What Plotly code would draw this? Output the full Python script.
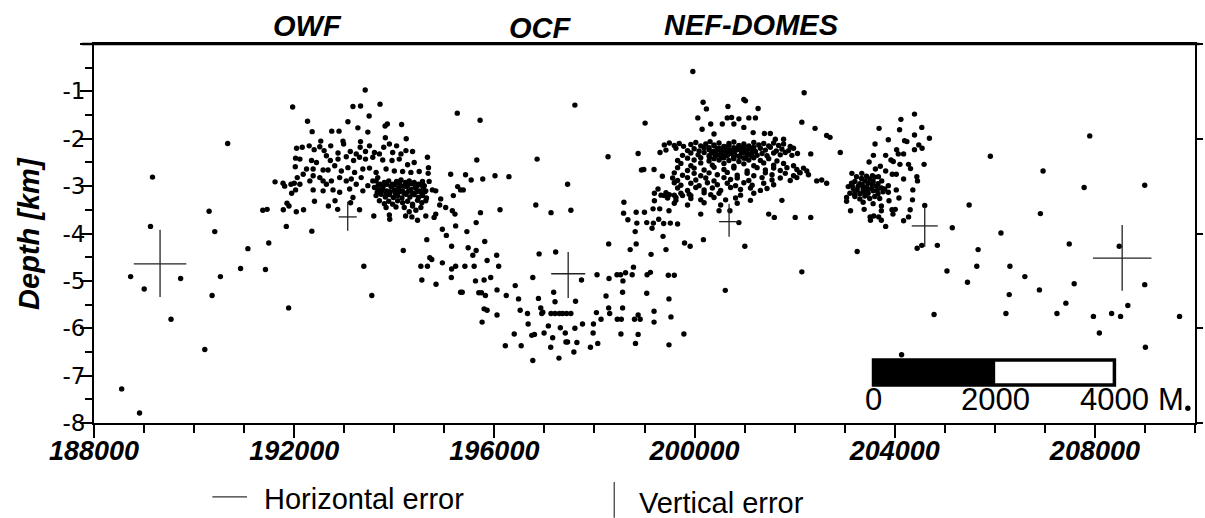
import plotly.graph_objects as go

# ---------------- data (x in m, depth in km) ----------------
west_events = [
    (190671, -2.10), (189169, -2.81), (190300, -3.53), (189129, -3.85), (190413, -3.96),
    (188732, -4.91), (189003, -5.17), (189731, -4.95), (189539, -5.81), (190214, -6.45),
    (188553, -7.28), (188910, -7.79), (190526, -4.91), (190360, -5.31), (190929, -4.74),
    (191075, -4.32), (191492, -4.20), (191426, -4.76), (191889, -5.57), (193392, -4.69),
    (193551, -5.31),
]

owf_events = [
    (193419, -0.97), (191969, -1.33), (193174, -1.32), (193326, -1.31), (193716, -1.27),
    (195259, -1.46), (193498, -1.52), (192267, -1.63), (193074, -1.64), (194147, -1.70),
    (193816, -1.73), (193862, -1.69), (192359, -1.85), (192750, -1.84), (192896, -1.84),
    (193273, -1.77), (193472, -1.86), (194239, -2.00), (193822, -1.98), (192531, -2.05),
    (192975, -2.05), (193326, -2.06), (194663, -2.39), (195127, -2.75), (195266, -3.01),
    (195180, -3.20), (195325, -3.08), (194683, -2.61), (194677, -2.73), (194697, -2.90),
    (191843, -3.85), (192353, -3.95), (191373, -3.51), (191459, -3.49), (191783, -3.50),
    (191856, -3.36), (191896, -3.42), (192042, -3.54), (192187, -3.50), (191618, -2.91),
    (191777, -2.94), (191810, -3.00), (191936, -2.96), (192002, -2.94), (192062, -2.82),
    (191949, -3.15), (192028, -3.08), (192114, -2.96), (192406, -3.32), (192684, -3.42),
    (192816, -3.31), (192869, -3.49), (193127, -3.35), (193306, -3.50), (193591, -3.63),
    (193902, -3.61), (193909, -3.70), (194226, -3.63), (194299, -3.54), (194432, -3.51),
    (194352, -3.65), (194465, -3.72), (194630, -3.63), (194796, -3.66), (194961, -3.91),
    (195226, -3.84), (195160, -3.52), (194908, -3.40), (195027, -3.45), (194762, -3.08),
    (194829, -3.10), (194928, -3.27), (194829, -3.59), (195213, -3.59),
    (192048, -2.20), (192161, -2.18), (192300, -2.15), (192399, -2.23), (192512, -2.17),
    (192598, -2.25), (192730, -2.15), (192876, -2.30), (192988, -2.11), (193121, -2.27),
    (193240, -2.32), (193319, -2.18), (193425, -2.27), (193505, -2.15), (193604, -2.29),
    (193703, -2.32), (193789, -2.18), (193902, -2.11), (193968, -2.29), (194047, -2.15),
    (194134, -2.32), (194233, -2.25), (194365, -2.27),
    (192028, -2.41), (192114, -2.43), (192346, -2.46), (192445, -2.50), (192644, -2.36),
    (192723, -2.46), (192876, -2.43), (193041, -2.38), (193187, -2.46), (193306, -2.39),
    (193425, -2.43), (193571, -2.39), (193769, -2.45), (193955, -2.46), (194100, -2.43),
    (194266, -2.55), (194398, -2.50),
    (192022, -2.59), (192247, -2.64), (192379, -2.64), (192578, -2.66), (192677, -2.66),
    (192810, -2.57), (192942, -2.68), (193074, -2.61), (193207, -2.71), (193372, -2.64),
    (193505, -2.62), (193637, -2.71), (193836, -2.64), (194001, -2.68), (194167, -2.69),
    (194332, -2.71), (194498, -2.69),
    (192181, -2.75), (192313, -2.89), (192379, -2.78), (192512, -2.82), (192578, -2.89),
    (192644, -2.96), (192743, -2.89), (192776, -3.08), (192909, -2.82), (193041, -2.89),
    (193141, -2.85), (193108, -3.06), (193240, -2.96), (193339, -2.82), (193372, -3.10),
    (193472, -2.99), (193571, -2.89), (193670, -2.82), (192379, -3.08), (192578, -3.10),
    (192909, -3.13), (193174, -3.24),
    # dense core
    (193637, -2.89), (193716, -2.96), (193802, -2.92), (193889, -2.89), (193968, -2.96),
    (194047, -2.90), (194134, -2.87), (194220, -2.92), (194299, -2.89), (194398, -2.92),
    (194484, -2.96), (194564, -2.90),
    (193604, -3.03), (193690, -3.08), (193769, -3.04), (193849, -3.10), (193935, -3.01),
    (194001, -3.08), (194087, -3.04), (194167, -3.10), (194246, -3.01), (194332, -3.07),
    (194418, -3.03), (194498, -3.10), (194577, -3.04), (194630, -3.10),
    (193637, -3.20), (193736, -3.17), (193822, -3.23), (193902, -3.18), (193981, -3.24),
    (194067, -3.20), (194153, -3.25), (194233, -3.17), (194312, -3.23), (194398, -3.18),
    (194484, -3.24), (194564, -3.20), (194643, -3.25),
    (193703, -3.31), (193802, -3.37), (193889, -3.32), (193968, -3.38), (194067, -3.31),
    (194167, -3.35), (194266, -3.32), (194365, -3.38), (194465, -3.30), (194551, -3.35),
    (194630, -3.31),
    (193836, -3.45), (194034, -3.44), (194200, -3.45), (194365, -3.42), (194531, -3.45),
    (193680, -2.98), (193775, -3.00), (193850, -2.96), (193940, -3.00), (194010, -2.97),
    (194105, -2.95), (194180, -3.00), (194270, -2.97), (194350, -2.95), (194445, -3.01),
    (194520, -2.97), (194600, -2.99),
    (193660, -3.13), (193745, -3.11), (193840, -3.15), (193915, -3.12), (194015, -3.14),
    (194100, -3.12), (194195, -3.15), (194280, -3.11), (194365, -3.15), (194450, -3.12),
    (194545, -3.14), (194610, -3.12),
]

ocf_events = [
    (195378, -3.08), (195424, -2.76), (195537, -2.87), (195649, -2.45), (195715, -1.61),
    (195768, -2.85), (196013, -2.78), (196291, -2.80), (195722, -3.56), (195636, -3.77),
    (195451, -3.96), (196113, -3.50), (196828, -3.40), (197132, -3.56), (197529, -3.51),
    (196854, -2.43), (197463, -2.96), (197609, -1.29), (198271, -2.38),
    (194180, -4.36), (194650, -4.13), (195041, -4.04), (195146, -4.27), (194710, -4.51),
    (194749, -4.55), (194531, -4.69), (194663, -4.69), (194961, -4.62), (195146, -4.75),
    (195226, -4.69), (194551, -4.98), (194835, -5.07), (195140, -4.93), (195325, -5.24),
    (195808, -4.17), (195477, -4.30), (195636, -4.36), (195570, -4.46), (195855, -4.57),
    (196046, -4.46), (195411, -4.69), (195596, -4.69), (196086, -4.69), (195623, -5.00),
    (195795, -4.98), (195927, -4.93), (195689, -5.25), (195742, -5.25), (195821, -5.31),
    (196053, -5.19), (196238, -5.31), (196417, -5.10), (196483, -5.38), (195358, -5.24),
    (196894, -4.43), (197225, -4.39), (196768, -4.93), (196881, -5.37), (197185, -5.24),
    (197212, -5.44), (197622, -5.43), (197741, -4.98), (195795, -5.59), (195855, -5.62),
    (196053, -5.72), (195755, -5.87), (196516, -5.62), (196662, -5.69), (196927, -5.57),
    (196967, -5.66),
    (197132, -5.69), (197212, -5.69), (197298, -5.69), (197364, -5.69), (197443, -5.69),
    (197529, -5.69), (196947, -5.69),
    (196675, -5.91), (196397, -6.12), (196219, -6.37), (196536, -6.37), (196748, -6.15),
    (196801, -6.13), (196993, -6.10), (197079, -5.95), (197318, -5.99), (197417, -6.10),
    (197165, -6.20), (197126, -6.40), (197430, -6.29), (197463, -6.29), (197649, -6.30),
    (197609, -6.00), (197589, -6.50), (197291, -6.63), (196768, -6.68), (197761, -5.91),
    (197920, -6.40), (197973, -6.10), (198066, -6.32), (197980, -5.91), (198132, -5.81),
    (198039, -5.67), (198304, -5.69), (198284, -5.57), (198231, -5.32), (198456, -5.81),
    (198536, -5.81), (198562, -5.57), (198562, -5.24), (198873, -5.72), (198800, -5.81),
    (198913, -5.81), (198529, -6.12), (198873, -6.13), (198820, -6.32), (199191, -5.64),
    (199191, -5.87), (199529, -5.76), (199489, -5.38), (199045, -5.26), (199489, -6.35),
    (199787, -6.12),
    (198052, -4.87), (198291, -4.95), (198450, -4.87), (198522, -4.87), (198622, -4.83),
    (198754, -4.87), (198780, -4.71), (198569, -5.00), (199052, -4.87), (199118, -4.82),
    (199476, -4.88), (199595, -4.88),
    (198284, -4.22), (198834, -4.22), (198714, -4.34), (199131, -4.44), (199370, -4.06),
    (199429, -4.34), (199800, -4.20), (199912, -4.27), (200177, -4.13), (201005, -4.27),
    (202144, -4.81), (200614, -5.20),
]

nef_events = [
    (199966, -0.58), (199012, -1.67), (198873, -2.31), (198939, -2.66), (198986, -2.65),
    (199191, -2.65), (199357, -2.79), (199310, -2.29), (198589, -3.34), (198582, -3.57),
    (198834, -3.55), (198999, -3.55), (198668, -3.71), (198847, -3.78), (198814, -3.96),
    (199045, -3.77), (199178, -3.78), (199151, -3.89), (199284, -3.70), (199383, -3.79),
    (199516, -3.78), (199661, -3.80), (199171, -3.48), (199304, -3.48), (199489, -3.52),
    (199270, -3.06), (199198, -3.31), (199397, -3.20), (199496, -3.18), (199628, -3.24),
    (199760, -3.20), (199893, -3.17), (200124, -3.59), (200489, -3.52), (200707, -3.52),
    (200886, -3.77), (201482, -3.59), (201594, -3.66), (202011, -3.66), (202322, -3.66),
    (201746, -3.30), (202190, -1.03), (202144, -1.65), (202408, -1.78), (202640, -1.93),
    (202322, -2.32), (202640, -2.94), (202541, -2.87), (202441, -2.89), (202243, -2.68),
    (202097, -2.71), (202044, -2.82), (200985, -1.17), (201018, -1.20), (201270, -1.36),
    (200171, -1.23), (200237, -1.37), (200667, -1.32), (200065, -1.56), (200323, -1.69),
    (200555, -1.69), (200654, -1.56), (200740, -1.55), (200886, -1.58), (201085, -1.56),
    (201217, -1.56), (200151, -1.80), (200389, -1.90), (200786, -1.69), (200985, -1.76),
    (201171, -1.87), (201395, -1.89), (201514, -1.89), (201614, -2.01), (201779, -2.01),
]

nef_cluster = [
    (199396, -2.13), (199496, -2.09), (199595, -2.14), (199694, -2.10), (199780, -2.16),
    (199926, -2.12), (200025, -2.08), (200124, -2.15), (200224, -2.11), (200310, -2.06),
    (200389, -2.13), (200489, -2.09), (200588, -2.16), (200687, -2.10), (200786, -2.07),
    (200886, -2.14), (200985, -2.11), (201084, -2.17), (201184, -2.08), (201283, -2.13),
    (201382, -2.10), (201482, -2.15), (201581, -2.09), (201680, -2.14), (201779, -2.11),
    (201912, -2.16),
    (200290, -2.19), (200389, -2.15), (200489, -2.20), (200588, -2.17), (200687, -2.14),
    (200786, -2.19), (200886, -2.16), (200985, -2.20), (201084, -2.15), (201184, -2.18),
    (199429, -2.24), (199628, -2.20), (199860, -2.25), (199992, -2.21), (200091, -2.26),
    (200191, -2.19), (200290, -2.23), (200376, -2.27), (200455, -2.21), (200535, -2.25),
    (200621, -2.19), (200707, -2.24), (200786, -2.28), (200866, -2.22), (200952, -2.19),
    (201038, -2.25), (201117, -2.21), (201217, -2.27), (201316, -2.20), (201415, -2.24),
    (201515, -2.18), (201634, -2.26), (201746, -2.22), (201879, -2.25), (201978, -2.20),
    (200340, -2.29), (200440, -2.25), (200540, -2.30), (200640, -2.26), (200740, -2.31),
    (200840, -2.24), (200940, -2.29), (201040, -2.27), (201140, -2.31),
    (199760, -2.35), (199926, -2.30), (200071, -2.34), (200191, -2.29), (200290, -2.36),
    (200389, -2.31), (200469, -2.34), (200555, -2.30), (200641, -2.35), (200720, -2.29),
    (200800, -2.33), (200886, -2.37), (200972, -2.30), (201051, -2.34), (201151, -2.29),
    (201250, -2.35), (201349, -2.31), (201448, -2.36), (201581, -2.30), (201713, -2.34),
    (201813, -2.29), (201945, -2.35), (202057, -2.31),
    (200300, -2.39), (200420, -2.36), (200540, -2.40), (200660, -2.35), (200780, -2.39),
    (200900, -2.37), (201020, -2.41), (201140, -2.36),
    (199661, -2.46), (199860, -2.41), (199992, -2.45), (200124, -2.40), (200290, -2.47),
    (200389, -2.42), (200489, -2.45), (200588, -2.40), (200687, -2.46), (200786, -2.42),
    (200886, -2.48), (200985, -2.41), (201084, -2.45), (201184, -2.40), (201316, -2.46),
    (201482, -2.42), (201647, -2.47),
    (199727, -2.52), (199926, -2.57), (200124, -2.51), (200356, -2.56), (200588, -2.52),
    (200786, -2.58), (200985, -2.53), (201184, -2.57), (201382, -2.51), (201581, -2.56),
    (201779, -2.52), (201978, -2.57),
    (199661, -2.61), (199860, -2.67), (199992, -2.62), (200191, -2.66), (200389, -2.60),
    (200588, -2.65), (200786, -2.62), (201051, -2.68), (201250, -2.61), (201415, -2.66),
    (201581, -2.62), (201713, -2.67), (201846, -2.61), (202044, -2.65), (202177, -2.62),
    (199595, -2.72), (199760, -2.77), (199992, -2.73), (200124, -2.78), (200290, -2.72),
    (200455, -2.76), (200654, -2.71), (200853, -2.77), (201051, -2.73), (201184, -2.78),
    (201415, -2.72), (201548, -2.76), (201813, -2.73), (201978, -2.78), (202110, -2.72),
    (202276, -2.76),
    (199562, -2.83), (199661, -2.88), (199860, -2.82), (200025, -2.87), (200224, -2.83),
    (200389, -2.89), (200588, -2.82), (200720, -2.86), (200853, -2.83), (201084, -2.88),
    (201349, -2.82), (201548, -2.87), (201713, -2.83), (201912, -2.88),
    (199595, -2.93), (199727, -2.98), (199926, -2.94), (200091, -2.99), (200257, -2.93),
    (200455, -2.97), (200654, -2.94), (200820, -2.99), (200985, -2.93), (201151, -2.98),
    (201382, -2.94), (201581, -2.97),
    (199661, -3.04), (199860, -3.09), (200025, -3.03), (200191, -3.08), (200356, -3.04),
    (200522, -3.09), (200720, -3.03), (200919, -3.07), (201117, -3.04), (201316, -3.09),
    (201448, -3.05),
    (199198, -3.15), (199330, -3.19), (199429, -3.14), (199595, -3.19), (199727, -3.15),
    (199926, -3.20), (200191, -3.14), (200323, -3.18), (200489, -3.15), (200919, -3.19),
    (201184, -3.15),
    (199462, -3.25), (199628, -3.30), (199926, -3.26), (200124, -3.29), (200389, -3.24),
    (200621, -3.29), (200820, -3.25), (201117, -3.30),
    (199595, -3.36), (199860, -3.40), (200191, -3.35), (200522, -3.40), (200853, -3.36),
]

domes_events = [
    (202707, -1.97), (202912, -2.29), (203687, -1.78), (204124, -1.59), (204395, -1.48),
    (204097, -1.81), (204541, -1.76), (204693, -1.99), (204395, -1.92), (203872, -2.02),
    (204197, -2.04), (204243, -2.06), (203607, -2.11), (204481, -2.13), (204547, -2.20),
    (204038, -2.23), (204395, -2.23), (203574, -2.35), (203819, -2.35), (203925, -2.45),
    (204071, -2.32), (204177, -2.32), (203488, -2.49), (203713, -2.58), (203971, -2.48),
    (204104, -2.54), (204276, -2.54), (204587, -2.54), (203614, -2.64), (203819, -2.68),
    (204316, -2.63), (203144, -2.73), (203342, -2.73), (203951, -2.75), (204031, -2.75),
    (204177, -2.85), (204442, -2.80), (204455, -2.89), (204362, -3.08), (204084, -3.25),
    (204031, -3.08), (204355, -3.29), (204309, -3.50), (204276, -3.65), (204600, -3.41),
    (203945, -3.50), (204011, -3.49), (203965, -3.59), (204177, -3.73), (203819, -3.85),
    (203733, -3.72), (203680, -3.65), (203581, -3.63), (203508, -3.65), (203515, -3.72),
    (203389, -3.49), (203117, -3.52), (203038, -3.32), (203038, -3.24), (203733, -3.42),
    (203733, -3.52), (203885, -3.31), (203872, -3.13), (203872, -2.99), (203799, -3.06),
    (203740, -2.89), (203674, -2.80), (203554, -2.78),
    # dense core
    (203237, -2.80), (203336, -2.84), (203435, -2.79), (203501, -2.85), (203601, -2.81),
    (203137, -2.94), (203204, -2.90), (203303, -2.95), (203402, -2.89), (203468, -2.94),
    (203568, -2.90), (203667, -2.95),
    (203071, -3.01), (203170, -3.05), (203270, -3.00), (203369, -3.06), (203435, -3.02),
    (203535, -3.05), (203634, -3.00), (203733, -3.04),
    (203104, -3.15), (203204, -3.11), (203303, -3.16), (203369, -3.12), (203468, -3.15),
    (203568, -3.10), (203667, -3.16), (203766, -3.12),
    (203204, -3.22), (203303, -3.27), (203402, -3.21), (203501, -3.26), (203601, -3.22),
    (203700, -3.26), (203369, -3.34), (203568, -3.37),
    (203150, -2.98), (203250, -3.08), (203350, -2.97), (203450, -3.09), (203550, -2.96),
    (203650, -3.09), (203200, -3.18), (203420, -3.19),
]

east_events = [
    (205911, -2.37), (205487, -3.40), (205150, -3.88), (206123, -3.99), (206964, -2.68),
    (206911, -3.58), (207897, -1.94), (207785, -3.03), (208996, -2.98),
    (203250, -4.38), (204448, -4.31), (204541, -4.25), (204852, -4.25), (205666, -4.34),
    (205044, -4.79), (205640, -4.69), (206302, -4.69), (205454, -5.03), (206600, -4.91),
    (206288, -5.29), (206891, -5.19), (207487, -4.22), (207586, -5.06), (208486, -4.27),
    (208996, -5.08), (207420, -5.47), (208658, -5.52), (204786, -5.71), (206222, -5.69),
    (207242, -5.69), (207970, -5.75), (208334, -5.69), (208513, -5.75), (208089, -6.10),
    (209009, -6.40), (209691, -5.75), (204137, -6.56), (209857, -7.69),
]

# representative location errors (cross symbols)
err_x = [189320, 193070, 197475, 200690, 204600, 208545]
err_depth = [-4.64, -3.65, -4.85, -3.75, -3.84, -4.52]
err_h = [525, 180, 340, 200, 260, 585]
err_v_up = [0.72, 0.32, 0.46, 0.38, 0.40, 0.70]
err_v_down = [0.70, 0.29, 0.51, 0.32, 0.44, 0.69]

zone_labels = ["OWF", "OCF", "NEF-DOMES"]
zone_label_x = [192262, 196930, 201140]

x_tick_vals = [188000, 192000, 196000, 200000, 204000, 208000]
x_tick_text = ["188000", "192000", "196000", "200000", "204000", "208000"]
y_tick_vals = [-8, -7, -6, -5, -4, -3, -2, -1, 0]
y_tick_text = ["-8", "-7", "-6", "-5", "-4", "-3", "-2", "-1", ""]
scale_labels = ["0", "2000", "4000"]

# ---------------- assemble ----------------
xs, ys = [], []
for group in (west_events, owf_events, ocf_events, nef_events, nef_cluster,
              domes_events, east_events):
    for x, d in group:
        xs.append(x)
        ys.append(d)

ARIAL = "Liberation Sans, Arial, sans-serif"

fig = go.Figure()
fig.add_trace(go.Scatter(
    x=xs, y=ys, mode="markers",
    marker=dict(size=5.4, color="black", line=dict(width=0)),
    showlegend=False, hoverinfo="skip",
))
fig.add_trace(go.Scatter(
    x=err_x, y=err_depth, mode="markers",
    marker=dict(size=0.1, color="rgba(0,0,0,0)"),
    error_x=dict(type="data", array=err_h, symmetric=True, width=0, thickness=1.3, color="#222"),
    error_y=dict(type="data", array=err_v_up, arrayminus=err_v_down, symmetric=False,
                 width=0, thickness=1.3, color="#222"),
    showlegend=False, hoverinfo="skip",
))
fig.add_trace(go.Scatter(x=[189000], y=[-4], yaxis="y2", mode="markers",
                         marker=dict(size=0.1, color="rgba(0,0,0,0)"),
                         showlegend=False, hoverinfo="skip"))

fig.update_layout(
    width=1205, height=518,
    margin=dict(l=94, r=4, t=44, b=95),
    paper_bgcolor="white", plot_bgcolor="white",
    showlegend=False,
    xaxis=dict(
        range=[188000, 210000], showgrid=False, zeroline=False,
        showline=True, linecolor="black", linewidth=2, mirror=True,
        tickmode="array", tickvals=x_tick_vals, ticktext=x_tick_text,
        ticks="outside", ticklen=13, tickwidth=1.5, tickcolor="black",
        tickfont=dict(family=ARIAL, size=27, color="black", weight="bold", style="italic"),
        ticklabelstandoff=-10,
        minor=dict(dtick=1000, tick0=188000, ticks="outside", ticklen=8, tickwidth=1.5,
                   tickcolor="black", showgrid=False),
    ),
    yaxis=dict(
        range=[-8, 0], showgrid=False, zeroline=False,
        showline=True, linecolor="black", linewidth=2,
        tickmode="array", tickvals=y_tick_vals, ticktext=y_tick_text,
        ticks="outside", ticklen=12, tickwidth=1.5, tickcolor="black",
        tickfont=dict(family="DejaVu Sans", size=23, color="black"),
        ticklabelstandoff=-10,
        minor=dict(dtick=0.5, tick0=0, ticks="outside", ticklen=7, tickwidth=1.5,
                   tickcolor="black", showgrid=False),
    ),
    yaxis2=dict(
        range=[-8, 0], overlaying="y", side="right", showgrid=False, zeroline=False,
        showline=True, linecolor="black", linewidth=1.5,
        tickmode="array", tickvals=[-8, -6, -4, -2, 0], showticklabels=False,
        ticks="outside", ticklen=6, tickwidth=1.5, tickcolor="black",
    ),
)

# top border of the section
fig.add_shape(type="line", xref="paper", yref="paper", x0=-0.011, x1=1.004, y0=1, y1=1,
              line=dict(color="black", width=2.5))

for lab, lx, ly in zip(zone_labels, zone_label_x, [1.047, 1.043, 1.049]):
    fig.add_annotation(x=lx, y=ly, xref="x", yref="paper", text=lab, showarrow=False,
                       xanchor="center", yanchor="middle",
                       font=dict(family=ARIAL, size=29, color="black", weight="bold", style="italic"))

fig.add_annotation(x=-0.0596, y=0.5, xref="paper", yref="paper", text="Depth [km]",
                   textangle=-90, showarrow=False, xanchor="center", yanchor="middle",
                   font=dict(family=ARIAL, size=29, color="black", weight="bold", style="italic"))

# scale bar (paper coords)
sb_x0, sb_mid, sb_x1 = 0.708, 0.8185, 0.9268
sb_y0, sb_y1 = 0.100, 0.166
fig.add_shape(type="rect", xref="paper", yref="paper", x0=sb_x0, x1=sb_mid, y0=sb_y0, y1=sb_y1,
              fillcolor="black", line=dict(color="black", width=0))
fig.add_shape(type="rect", xref="paper", yref="paper", x0=sb_x0, x1=sb_x1, y0=sb_y0, y1=sb_y1,
              fillcolor="rgba(0,0,0,0)", line=dict(color="black", width=3.5))
for lab, lx in zip(scale_labels, [sb_x0, sb_mid, sb_x1]):
    fig.add_annotation(x=lx, y=0.0607, xref="paper", yref="paper", text=lab, showarrow=False,
                       xanchor="center", yanchor="middle",
                       font=dict(family=ARIAL, size=31, color="black"))
fig.add_annotation(x=0.9785, y=0.0607, xref="paper", yref="paper", text="M", showarrow=False,
                   xanchor="center", yanchor="middle",
                   font=dict(family=ARIAL, size=31, color="black"))

# legend drawn below the axis
fig.add_shape(type="line", xref="paper", yref="paper", x0=0.1075, x1=0.139, y0=-0.195, y1=-0.195,
              line=dict(color="#333", width=1.2))
fig.add_annotation(x=0.1527, y=-0.20, xref="paper", yref="paper", text="Horizontal error",
                   showarrow=False, xanchor="left", yanchor="middle",
                   font=dict(family=ARIAL, size=29, color="black"))
fig.add_shape(type="line", xref="paper", yref="paper", x0=0.4725, x1=0.4725, y0=-0.156, y1=-0.25,
              line=dict(color="#333", width=1.2))
fig.add_annotation(x=0.4932, y=-0.21, xref="paper", yref="paper", text="Vertical error",
                   showarrow=False, xanchor="left", yanchor="middle",
                   font=dict(family=ARIAL, size=29, color="black"))

fig.write_html("out.html")
